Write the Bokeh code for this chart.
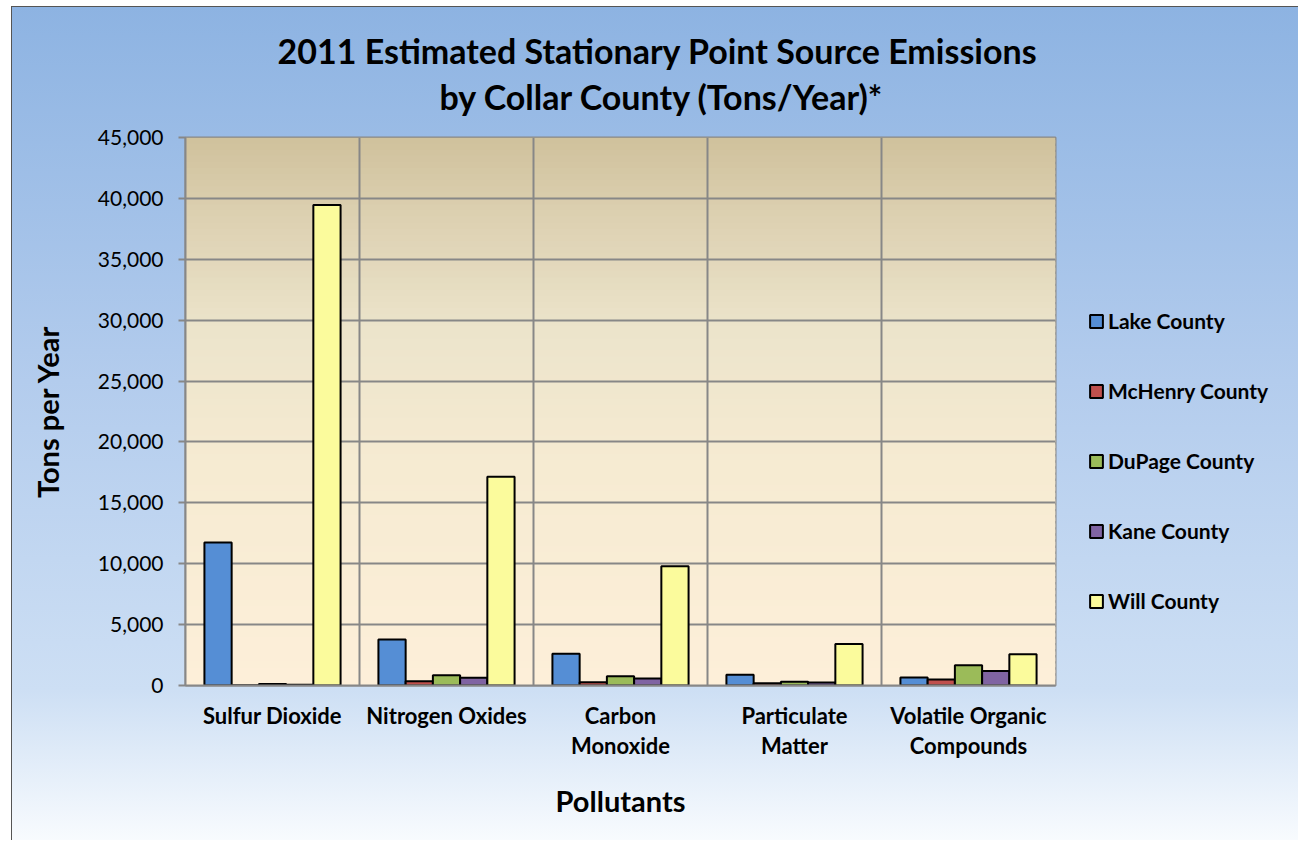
from bokeh.plotting import figure
from bokeh.layouts import row
from bokeh.models import (ColumnDataSource, FactorRange, Range1d, Span, BoxAnnotation,
                          Legend, LegendItem, Title, NumeralTickFormatter, FixedTicker)
from bokeh.transform import dodge
from bokeh.embed import file_html
from bokeh.resources import INLINE

# ---------------- data ----------------
pollutants = ["Sulfur Dioxide", "Nitrogen Oxides", "Carbon Monoxide",
              "Particulate Matter", "Volatile Organic Compounds"]
label_line1 = ["Sulfur Dioxide", "Nitrogen Oxides", "Carbon", "Particulate", "Volatile Organic"]
label_line2 = [" ", "  ", "Monoxide", "Matter", "Compounds"]
counties = ["Lake County", "McHenry County", "DuPage County", "Kane County", "Will County"]
lake = [11750, 3780, 2600, 880, 660]
mchenry = [20, 350, 270, 190, 490]
dupage = [130, 850, 760, 300, 1670]
kane = [60, 630, 570, 250, 1200]
will = [39450, 17150, 9800, 3400, 2570]
y_ticks = [0, 5000, 10000, 15000, 20000, 25000, 30000, 35000, 40000, 45000]
title_line1 = "2011 Estimated Stationary Point Source Emissions"
title_line2 = "by Collar County (Tons/Year)*"

colors = ["#558ed5", "#c0504d", "#9bbb59", "#8064a2", "#fbfb9c"]

FONT = "Lato"
GRID = "#878787"

# two-level factors so that the axis writes each category on two rows
factors = list(zip(label_line2, label_line1))
data = dict(cat=factors, pos=list(range(len(pollutants))), lake=lake, mchenry=mchenry,
            dupage=dupage, kane=kane, will=will)
src = ColumnDataSource(data)
keys = ["lake", "mchenry", "dupage", "kane", "will"]

xr = FactorRange(*factors, range_padding=0, group_padding=0, factor_padding=0)
p = figure(width=1060, height=840, x_range=xr,
           y_range=Range1d(0, 45000), output_backend="svg", toolbar_location=None,
           min_border_left=185, min_border_right=5, min_border_top=137, min_border_bottom=155)
p.border_fill_color = None
p.background_fill_color = None

# plot area gradient (decoration)
stops = [(0.0, (0xcf, 0xc1, 0x9c)), (0.15, (0xdd, 0xd1, 0xb2)), (0.35, (0xec, 0xe4, 0xcb)),
         (0.6, (0xf6, 0xeb, 0xd2)), (1.0, (0xfd, 0xef, 0xd9))]
def col_at(t):
    for (t0, c0), (t1, c1) in zip(stops[:-1], stops[1:]):
        if t0 <= t <= t1:
            f = (t - t0) / (t1 - t0)
            return "#%02x%02x%02x" % tuple(int(round(a + (b - a) * f)) for a, b in zip(c0, c1))
    return "#%02x%02x%02x" % stops[-1][1]
N = 90
step = 45000 / N
for i in range(N):
    t = 1 - (i + 0.5) / N  # 0 at top
    p.add_layout(BoxAnnotation(bottom=i * step, top=min((i + 1.6) * step, 45000),
                               fill_color=col_at(t), fill_alpha=1, line_color=None, level="image"))

# boundaries between categories
for b in [1, 2, 3, 4]:
    p.add_layout(Span(location=b, dimension="height", line_color=GRID, line_width=2, level="underlay"))

offsets = [-0.313, -0.1565, 0.0, 0.1565, 0.313]
for k, c, off in zip(keys, colors, offsets):
    p.vbar(x=dodge("cat", off, range=p.x_range), top=k, width=0.1565, source=src,
           fill_color=c, line_color="black", line_width=2)

# grid / axes
p.xgrid.visible = False
p.ygrid.grid_line_color = GRID
p.ygrid.grid_line_width = 2
p.outline_line_color = GRID
p.outline_line_width = 2

p.yaxis.ticker = FixedTicker(ticks=y_ticks)
p.yaxis.formatter = NumeralTickFormatter(format="0,0")
p.yaxis.axis_line_color = GRID
p.yaxis.axis_line_width = 2
p.yaxis.major_tick_line_color = GRID
p.yaxis.major_tick_line_width = 2
p.yaxis.major_tick_out = 7
p.yaxis.major_tick_in = 0
p.yaxis.minor_tick_line_color = None
p.yaxis.major_label_text_font = FONT
p.yaxis.major_label_text_font_size = "21px"
p.yaxis.major_label_text_color = "black"
p.yaxis.major_label_standoff = 15
p.yaxis.axis_label = "Tons per Year"
p.yaxis.axis_label_text_font = FONT
p.yaxis.axis_label_text_font_style = "bold"
p.yaxis.axis_label_text_font_size = "29px"
p.yaxis.axis_label_text_color = "black"
p.yaxis.axis_label_standoff = 30

p.xaxis.axis_line_color = GRID
p.xaxis.axis_line_width = 2
p.xaxis.major_tick_line_color = None
p.xaxis.major_tick_out = 16
p.xaxis.major_tick_in = 0
p.xaxis.major_label_text_font = FONT
p.xaxis.major_label_text_font_style = "bold"
p.xaxis.major_label_text_font_size = "22px"
p.xaxis.major_label_text_color = "black"
p.xaxis.major_label_standoff = 0
p.xaxis.major_label_orientation = "horizontal"
p.xaxis.group_text_font = FONT
p.xaxis.group_text_font_style = "bold"
p.xaxis.group_text_font_size = "22px"
p.xaxis.group_text_color = "black"
p.xaxis.group_label_orientation = "horizontal"
p.xaxis.separator_line_color = None
p.xaxis.axis_label = "Pollutants"
p.xaxis.axis_label_text_font = FONT
p.xaxis.axis_label_text_font_style = "bold"
p.xaxis.axis_label_text_font_size = "29px"
p.xaxis.axis_label_text_color = "black"
p.xaxis.axis_label_standoff = 21

# title: two lines (outer = first line, inner = second line)
p.title = Title(text=title_line1, align="left", offset=92, text_font=FONT,
                text_font_style="bold", text_font_size="34px", text_color="black", standoff=-35)
p.add_layout(Title(text=title_line2, align="left", offset=254, text_font=FONT,
                   text_font_style="bold", text_font_size="34px", text_color="black",
                   standoff=41), "above")

# legend panel (separate canvas to the right of the plot)
lg = figure(width=238, height=840, x_range=Range1d(0, 1), y_range=Range1d(0, 1),
            x_axis_location=None, y_axis_location=None, output_backend="svg",
            toolbar_location=None, min_border=0, outline_line_color=None)
lg.border_fill_color = None
lg.background_fill_color = None
lg.xgrid.visible = False
lg.ygrid.visible = False
items = []
for k, c, name in zip(keys, colors, counties):
    r = lg.vbar(x="pos", top=k, width=0.1, source=src, fill_color=c,
                line_color="black", line_width=2, visible=False)
    items.append(LegendItem(label=name, renderers=[r]))
legend = Legend(items=items, location=(28, 72), orientation="vertical",
                background_fill_alpha=0, border_line_color=None,
                label_text_font=FONT, label_text_font_style="bold", label_text_font_size="21px",
                label_text_color="black",
                label_height=25, glyph_height=16, glyph_width=16, label_standoff=4,
                spacing=45, padding=10, margin=0)
lg.add_layout(legend, "center")

layout = row(p, lg, spacing=0)
layout.styles = {
    "background": ("linear-gradient(#555, #555) 11px 6px / 1px 834px no-repeat, "
                   "linear-gradient(#555, #555) 11px 6px / 1287px 1px no-repeat, "
                   "linear-gradient(to bottom, #8db3e2 0%, #b3cced 45%, #cddff4 82%, #f8fbfe 100%) "
                   "11px 6px / 1287px 834px no-repeat, #ffffff"),
}

open("out.html", "w").write(file_html(layout, INLINE))
